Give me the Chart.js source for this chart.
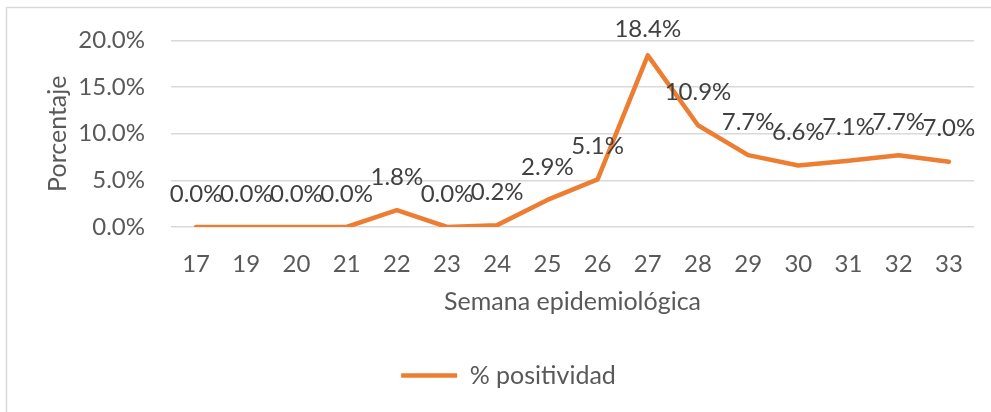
<!DOCTYPE html>
<html>
<head>
<meta charset="utf-8">
<script src="https://cdn.jsdelivr.net/npm/chart.js@4/dist/chart.umd.min.js"></script>
<style>
  html, body { margin: 0; padding: 0; background: #fff; overflow: hidden; }
  #wrap { position: absolute; left: 0; top: 0; width: 1017px; height: 412px; }
</style>
</head>
<body>
<div id="wrap"><canvas id="positividadChart"></canvas></div>
<script>
const semanas = ["17", "19", "20", "21", "22", "23", "24", "25", "26", "27", "28", "29", "30", "31", "32", "33"];
const positividad = [0.0, 0.0, 0.0, 0.0, 1.8, 0.0, 0.2, 2.9, 5.1, 18.4, 10.9, 7.7, 6.6, 7.1, 7.7, 7.0];
const serieLabel = "% positividad";
const yTitle = "Porcentaje";
const xTitle = "Semana epidemiológica";

const FONT = "Lato";
const GREY = "#595959";

// thin outer frame like the Excel chart area
const framePlugin = {
  id: "frame",
  beforeDraw(chart) {
    const ctx = chart.ctx;
    ctx.save();
    ctx.fillStyle = "#fff";
    ctx.fillRect(0, 0, chart.width, chart.height);
    ctx.strokeStyle = "#d9d9d9";
    ctx.lineWidth = 1.5;
    ctx.strokeRect(6.5, 7.5, chart.width + 20, chart.height + 20);
    ctx.restore();
  }
};

// data labels above each point
const labelsPlugin = {
  id: "pointLabels",
  afterDatasetsDraw(chart) {
    const ctx = chart.ctx;
    const meta = chart.getDatasetMeta(0);
    ctx.save();
    ctx.font = "24px " + FONT;
    ctx.fillStyle = "#404040";
    ctx.textAlign = "center";
    ctx.textBaseline = "middle";
    meta.data.forEach((pt, i) => {
      const y = Math.max(pt.y - 33, 29);
      ctx.fillText(positividad[i].toFixed(1) + "%", pt.x, y);
    });
    ctx.restore();
  }
};

new Chart(document.getElementById("positividadChart"), {
  type: "line",
  data: {
    labels: semanas,
    datasets: [
      {
        label: serieLabel,
        data: positividad,
        borderColor: "#ED7D31",
        backgroundColor: "#ED7D31",
        borderWidth: 4.5,
        borderCapStyle: "round",
        borderJoinStyle: "round",
        pointRadius: 0,
        tension: 0,
        fill: false,
      },
    ],
  },
  options: {
    responsive: true,
    maintainAspectRatio: false,
    animation: false,
    layout: { padding: { top: 37, bottom: 14, left: 0, right: 0 } },
    plugins: {
      tooltip: { enabled: false },
      legend: {
        position: "bottom",
        labels: {
          color: GREY,
          font: { family: FONT, size: 25 },
          usePointStyle: true,
          pointStyle: "line",
          pointStyleWidth: 56,
          padding: 10,
        },
      },
    },
    scales: {
      x: {
        offset: true,
        grid: { display: false },
        border: { display: false },
        ticks: { color: GREY, font: { family: FONT, size: 24 }, padding: 15, maxRotation: 0, autoSkip: false },
        title: { display: true, text: xTitle, color: GREY, font: { family: FONT, size: 25 }, padding: { top: 0, bottom: 36 } },
        afterFit(scale) { scale.height = 126; },
      },
      y: {
        min: 0,
        max: 20,
        grid: { color: "#d9d9d9", lineWidth: 1.5, drawTicks: false },
        border: { display: false },
        ticks: {
          stepSize: 5,
          color: GREY,
          font: { family: FONT, size: 24 },
          padding: 26,
          callback: (v) => v.toFixed(1) + "%",
        },
        title: { display: true, text: yTitle, color: GREY, font: { family: FONT, size: 25 }, padding: { top: 43, bottom: 0 } },
        afterFit(scale) { scale.width = 171; },
      },
      yRight: {
        position: "right",
        display: true,
        grid: { display: false },
        border: { display: false },
        ticks: { display: false },
        afterFit(scale) { scale.width = 43; },
      },
    },
  },
  plugins: [framePlugin, labelsPlugin],
});
</script>
</body>
</html>
